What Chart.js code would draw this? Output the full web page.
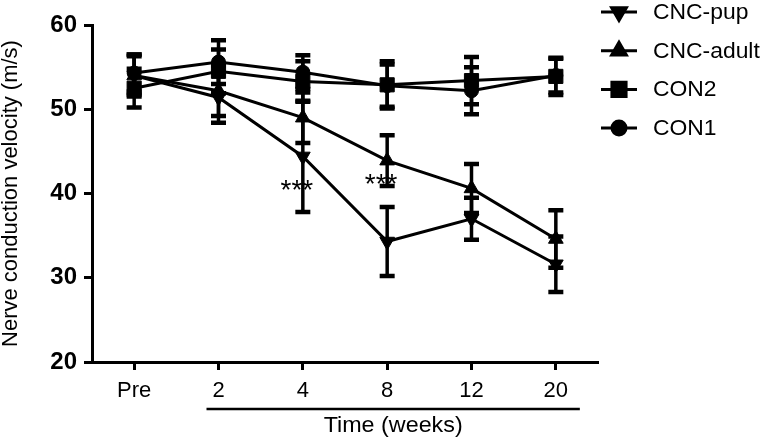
<!DOCTYPE html>
<html>
<head>
<meta charset="utf-8">
<script src="https://cdn.jsdelivr.net/npm/chart.js@4.4.1/dist/chart.umd.min.js"></script>
<style>
  html, body { margin: 0; padding: 0; background: #fff; }
  #wrap { width: 762px; height: 440px; }
</style>
</head>
<body>
<div id="wrap"><canvas id="myChart" width="762" height="440"></canvas></div>
<script>
// values (m/s), mean and SD
const timeLabels = ["Pre", "2", "4", "8", "12", "20"];
const legendOrder = ["CNC-pup", "CNC-adult", "CON2", "CON1"];

const cncPup = [54.0, 51.4, 44.4, 34.3, 37.0, 31.6];
const cncPupErr = [2.5, 3.0, 6.6, 4.1, 2.5, 3.3];
const cncAdult = [54.0, 52.2, 49.0, 43.9, 40.6, 34.6];
const cncAdultErr = [2.3, 3.0, 3.0, 3.0, 2.9, 3.4];
const con2 = [52.5, 54.5, 53.3, 52.9, 53.4, 53.9];
const con2Err = [2.3, 2.6, 2.4, 2.8, 2.8, 2.2];
const con1 = [54.3, 55.6, 54.4, 52.8, 52.2, 54.0];
const con1Err = [2.2, 2.6, 2.0, 2.5, 2.8, 2.0];

const yTicks = [20, 30, 40, 50, 60];
const starIndex = [2, 3];
const starValues = [41.25, 41.95];

const FONT = "'Liberation Sans', Arial, sans-serif";

const makeSet = (label, data, errors, style, rot, radius) => ({
  label: label,
  data: data,
  errors: errors,
  borderColor: '#000',
  backgroundColor: '#000',
  borderWidth: 3,
  pointStyle: style,
  pointRotation: rot,
  pointRadius: radius,
  pointBorderWidth: 1,
  pointBorderColor: '#000',
  pointBackgroundColor: '#000',
  tension: 0
})

// text a bit wider than the font, like the original figure
const wideText = (ctx, txt, x, y, sx) => {
  ctx.save();
  ctx.translate(x, y);
  ctx.scale(sx, 1);
  ctx.fillText(txt, 0, 0);
  ctx.restore();
}

const extras = {
  id: 'extras',
  beforeDatasetsDraw(chart) {
    const ctx = chart.ctx;
    const xs = chart.scales.x, ys = chart.scales.y;
    ctx.save();
    ctx.strokeStyle = '#000';
    chart.data.datasets.forEach(ds => {
      ds.data.forEach((v, i) => {
        let px = xs.getPixelForValue(i);
        let top = ys.getPixelForValue(v + ds.errors[i]);
        let bot = ys.getPixelForValue(v - ds.errors[i]);
        ctx.lineWidth = 3.5;
        ctx.beginPath();
        ctx.moveTo(px, top);
        ctx.lineTo(px, bot);
        ctx.stroke();
        ctx.lineWidth = 4.5;
        ctx.beginPath();
        ctx.moveTo(px - 7.5, top); ctx.lineTo(px + 7.5, top);
        ctx.moveTo(px - 7.5, bot); ctx.lineTo(px + 7.5, bot);
        ctx.stroke();
      })
    })
    ctx.restore();
  },
  afterDraw(chart) {
    const ctx = chart.ctx;
    const xs = chart.scales.x, ys = chart.scales.y;
    ctx.save();
    ctx.fillStyle = '#000';
    ctx.strokeStyle = '#000';

    // significance marks
    ctx.font = '28px ' + FONT;
    ctx.textAlign = 'center';
    ctx.textBaseline = 'alphabetic';
    starIndex.forEach((idx, k) => {
      ctx.fillText('***', xs.getPixelForValue(idx) - 6, ys.getPixelForValue(starValues[k]) + 16);
    })

    // bracket under the week labels and axis title
    let x0 = xs.getPixelForValue(1) - 12;
    let x1 = xs.getPixelForValue(5) + 24;
    ctx.lineWidth = 2.5;
    ctx.beginPath();
    ctx.moveTo(x0, 409);
    ctx.lineTo(x1, 409);
    ctx.stroke();
    ctx.font = '22px ' + FONT;
    ctx.textBaseline = 'middle';
    wideText(ctx, 'Time (weeks)', (x0 + x1) / 2, 426, 1.06);

    // legend
    ctx.textAlign = 'left';
    ctx.font = '22px ' + FONT;
    legendOrder.forEach((name, i) => {
      const ds = chart.data.datasets.find(d => d.label === name);
      let ry = 12 + i * 38.7;
      ctx.lineWidth = 3;
      ctx.beginPath();
      ctx.moveTo(601, ry);
      ctx.lineTo(637, ry);
      ctx.stroke();
      Chart.helpers.drawPoint(ctx, {
        pointStyle: ds.pointStyle,
        rotation: ds.pointRotation,
        radius: ds.pointRadius,
        borderWidth: 1
      }, 619, ry);
      ctx.fill();
      wideText(ctx, name, 653, ry + 1, 1.04);
    })
    ctx.restore();
  }
}

const ctx = document.getElementById('myChart').getContext('2d');
const chart = new Chart(ctx, {
  type: 'line',
  data: {
    labels: timeLabels,
    datasets: [
      makeSet('CON1', con1, con1Err, 'circle', 0, 7),
      makeSet('CON2', con2, con2Err, 'rect', 0, 10),
      makeSet('CNC-adult', cncAdult, cncAdultErr, 'triangle', 0, 8.5),
      makeSet('CNC-pup', cncPup, cncPupErr, 'triangle', 180, 8.5)
    ]
  },
  options: {
    responsive: false,
    animation: false,
    devicePixelRatio: 1,
    layout: { padding: { top: 25, right: 164, bottom: 0, left: 0 } },
    plugins: { legend: { display: false }, tooltip: { enabled: false } },
    scales: {
      x: {
        type: 'category',
        offset: true,
        afterFit: (scale) => { scale.height = 78; },
        grid: { offset: false, drawOnChartArea: false, drawTicks: true, tickLength: 8, tickWidth: 3, tickColor: '#000' },
        border: { display: true, color: '#000', width: 3 },
        ticks: { color: '#000', padding: 8, maxRotation: 0, font: { family: FONT, size: 22, lineHeight: 1.2 } }
      },
      y: {
        min: 20,
        max: 60,
        afterFit: (scale) => { scale.width = 92; },
        afterBuildTicks: (scale) => { scale.ticks = yTicks.map(v => ({ value: v })); },
        grid: { drawOnChartArea: false, drawTicks: true, tickLength: 8, tickWidth: 3, tickColor: '#000' },
        border: { display: true, color: '#000', width: 3 },
        ticks: { color: '#000', padding: 7, font: { family: FONT, size: 24, weight: 'bold' } },
        title: {
          display: true,
          text: 'Nerve conduction velocity (m/s)',
          color: '#000',
          padding: 0,
          font: { family: FONT, size: 22, lineHeight: 1.0 }
        }
      }
    }
  },
  plugins: [extras]
});
</script>
</body>
</html>
